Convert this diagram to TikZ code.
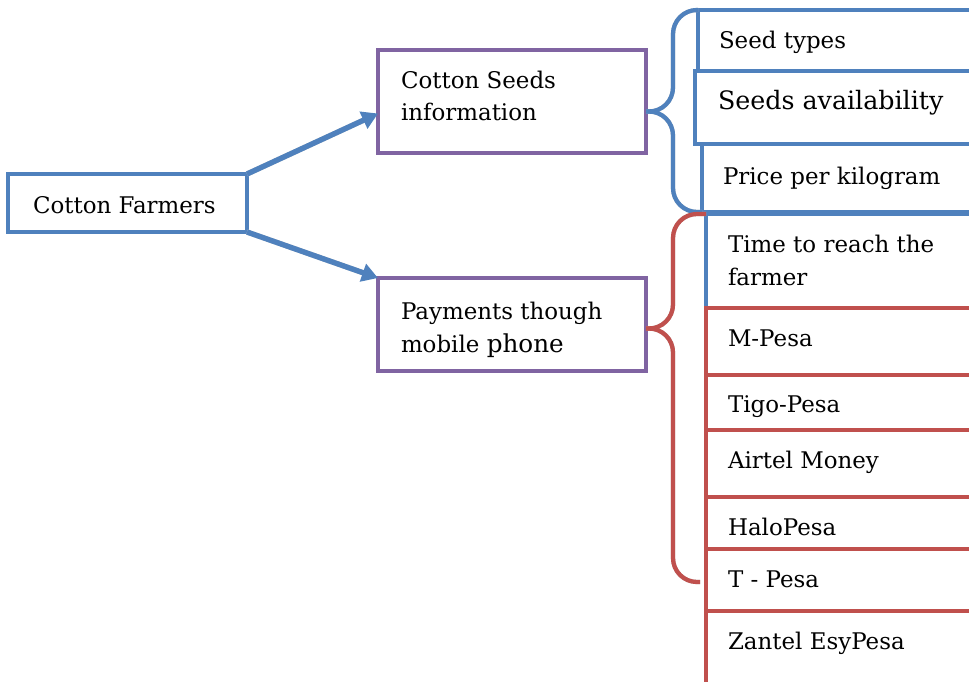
\documentclass[tikz,border=0pt]{standalone}
\usepackage{fontspec}
\setmainfont{DejaVu Serif}
\usetikzlibrary{arrows.meta,calc}
\definecolor{cblue}{HTML}{4F81BD}
\definecolor{cpurple}{HTML}{8064A2}
\definecolor{cred}{HTML}{C0504D}
\tikzset{
  boxb/.style={draw=cblue,line width=3.2pt,inner sep=0pt,outer sep=0pt,anchor=north west},
  boxp/.style={draw=cpurple,line width=3.2pt,inner sep=0pt,outer sep=0pt,anchor=north west},
  boxr/.style={draw=cred,line width=3.2pt,inner sep=0pt,outer sep=0pt,anchor=north west},
  txt/.style={inner sep=0pt,outer sep=0pt,anchor=base west,align=left,font=\fontsize{17.2pt}{24.5pt}\selectfont},
  arrowline/.style={draw=cblue,line width=4pt,-{Triangle[length=12pt,width=13.5pt]}},
  shadowline/.style={draw=black!22,line width=3pt,xshift=1.6pt,yshift=-1.6pt},
  bracel/.style={line width=3.2pt,rounded corners=18pt},
}
\begin{document}
\begin{tikzpicture}[x=0.75pt,y=-0.75pt]
\useasboundingbox (0,0) rectangle (969,681);
\clip (0,0) rectangle (969,681);
\fill[white] (0,0) rectangle (969,681);
% left boxes
\node[boxb,minimum width=179.25pt,minimum height=43.5pt] (ft) at (8,174) {};
\node[boxp,minimum width=201pt,minimum height=77.25pt] (csi) at (378,50) {};
\node[boxp,minimum width=201pt,minimum height=69.75pt] (pay) at (378,278) {};
% right blue boxes
\node[boxb,minimum width=225pt,minimum height=45.75pt] (st) at (698,10) {};
\node[boxb,minimum width=225pt,minimum height=54.75pt] (sa) at (695,71) {};
\node[boxb,minimum width=225pt,minimum height=51pt] (pk) at (702,144) {};
\node[boxb,minimum width=225pt,minimum height=70.5pt] (tr) at (706,214) {};
% right red boxes
\node[boxr,minimum width=225pt,minimum height=50.25pt] (mp) at (706,308) {};
\node[boxr,minimum width=225pt,minimum height=41.25pt] (tg) at (706,375) {};
\node[boxr,minimum width=225pt,minimum height=50.25pt] (am) at (706,430) {};
\node[boxr,minimum width=225pt,minimum height=39pt] (hp) at (706,497) {};
\node[boxr,minimum width=225pt,minimum height=46.5pt] (tpe) at (706,549) {};
\node[boxr,minimum width=225pt,minimum height=66.75pt] (ze) at (706,611) {};
% texts
\node[txt] (tft) at (33,213) {Cotton Farmers};
\node[txt] (tcsi) at (401,121) {Cotton Seeds\\information};
\node[txt] (tpay) at (401,352) {Payments though\\mobile {\fontsize{18.5pt}{24.5pt}\selectfont phone}};
\node[txt] (tst) at (719,49) {Seed types};
\node[txt,font=\fontsize{19pt}{26pt}\selectfont] (tsa) at (718,110) {Seeds availability};
\node[txt] (tpk) at (723,184) {Price per kilogram};
\node[txt] (ttr) at (728,285) {Time to reach the\\farmer};
\node[txt] (tmp) at (728,346) {M-Pesa};
\node[txt] (ttg) at (728,412) {Tigo-Pesa};
\node[txt] (tam) at (728,468) {Airtel Money};
\node[txt] (thp) at (728,535) {HaloPesa};
\node[txt] (ttpe) at (728,587) {T - Pesa};
\node[txt] (tze) at (728,649) {Zantel EsyPesa};
% brace tips
\coordinate (btip) at ($(csi.east)+(0,10)$);
\coordinate (rtip) at ($(pay.east)+(0,4)$);
\coordinate (rend) at ($(tpe.west)+(-6,2)$);
% shadows
\draw[shadowline,bracel] (btip) -- ++(27,0) |- (st.north west);
\draw[shadowline,bracel] (btip) -- ++(27,0) |- (pk.south west);
\draw[shadowline,bracel] (rtip) -- ++(27,0) |- (tr.north west);
\draw[shadowline,bracel] (rtip) -- ++(27,0) |- (rend);
\draw[shadowline,line width=4pt,shorten >=8pt] (ft.north east) -- ($(csi.west)+(0,12)$);
\draw[shadowline,line width=4pt,shorten >=8pt] (ft.south east) -- (pay.north west);
% braces
\draw[bracel,cblue] (btip) -- ++(27,0) |- (st.north west);
\draw[bracel,cblue] (btip) -- ++(27,0) |- (pk.south west);
\draw[bracel,cred] (rtip) -- ++(27,0) |- (tr.north west);
\draw[bracel,cred] (rtip) -- ++(27,0) |- (rend);
% arrows
\draw[arrowline] (ft.north east) -- ($(csi.west)+(0,12)$);
\draw[arrowline] (ft.south east) -- (pay.north west);
\end{tikzpicture}
\end{document}
